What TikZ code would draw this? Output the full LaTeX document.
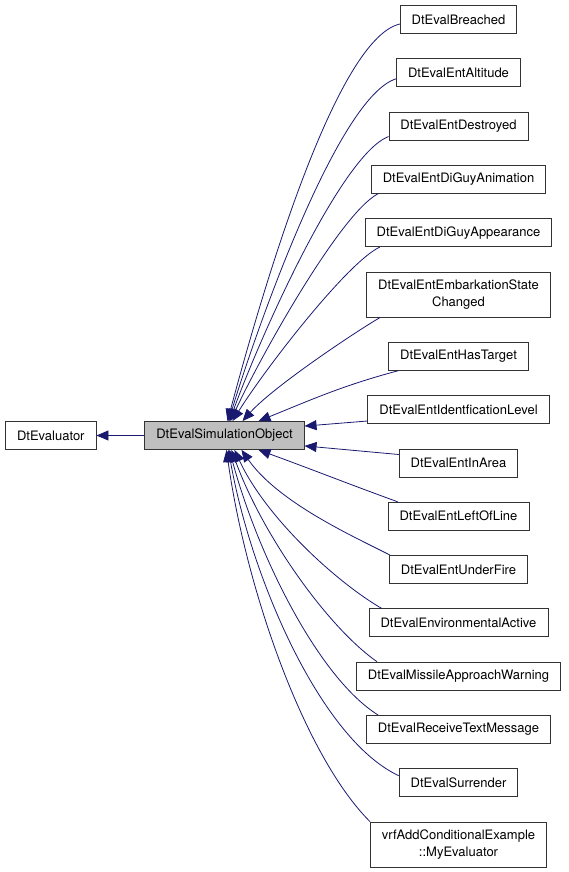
\documentclass[tikz,border=0pt]{standalone}
\usepackage{fontspec}
\setmainfont{TeX Gyre Heros}
\usetikzlibrary{arrows.meta,topaths,calc,positioning}

\definecolor{edgeblue}{HTML}{191970}
\definecolor{boxgray}{HTML}{BFBFBF}

\begin{document}
\begin{tikzpicture}[x=1pt, y=1pt, node distance=24.5pt,
    cls/.style={draw=black!80, line width=0.8pt, fill=white, minimum height=28pt,
                inner xsep=11.5pt, inner ysep=3pt, align=center,
                font=\fontsize{13}{17}\selectfont},
    twoline/.style={minimum height=45pt},
    inherit/.style={color=edgeblue, line width=0.8pt, -{Triangle[length=12pt,width=10pt]}},
    upper/.style={out looseness=0.4, in looseness=0.7},
    lower/.style={out looseness=0.6, in looseness=0.9}]
    \useasboundingbox (0,0) rectangle (568,-872);

    \node[cls, fill=boxgray]  (simobj)     at (224.5,-435.5)            {DtEvalSimulationObject};
    \node[cls]                (evaluator)  [left=48pt of simobj]        {DtEvaluator};

    \node[cls]                (breached)   at (458.5,-19.5)             {DtEvalBreached};
    \node[cls]                (altitude)   [below=of breached]          {DtEvalEntAltitude};
    \node[cls]                (destroyed)  [below=of altitude]          {DtEvalEntDestroyed};
    \node[cls]                (animation)  [below=of destroyed]         {DtEvalEntDiGuyAnimation};
    \node[cls]                (appearance) [below=of animation]         {DtEvalEntDiGuyAppearance};
    \node[cls, twoline]       (embark)     [below=of appearance]        {DtEvalEntEmbarkationState\\Changed};
    \node[cls]                (hastarget)  [below=of embark]            {DtEvalEntHasTarget};
    \node[cls]                (identlevel) [below=of hastarget]         {DtEvalEntIdentficationLevel};
    \node[cls]                (inarea)     [below=of identlevel]        {DtEvalEntInArea};
    \node[cls]                (leftofline) [below=of inarea]            {DtEvalEntLeftOfLine};
    \node[cls]                (underfire)  [below=of leftofline]        {DtEvalEntUnderFire};
    \node[cls]                (envactive)  [below=of underfire]         {DtEvalEnvironmentalActive};
    \node[cls]                (missile)    [below=of envactive]         {DtEvalMissileApproachWarning};
    \node[cls]                (textmsg)    [below=of missile]           {DtEvalReceiveTextMessage};
    \node[cls]                (surrender)  [below=of textmsg]           {DtEvalSurrender};
    \node[cls, twoline]       (myeval)     [below=of surrender]         {vrfAddConditionalExample\\::MyEvaluator};

    \draw[inherit] (simobj) -- (evaluator);

    % derived classes above the parent
    \path[inherit]
        ([yshift=-4.5pt]breached.west)      edge [upper, out=193, in=75]  ([xshift=83pt]simobj.north west)
        ([yshift=-6pt]altitude.west)        edge [upper, out=197, in=73]  ([xshift=84pt]simobj.north west)
        ([yshift=4pt]destroyed.south west)  edge [upper, out=201, in=70]  ([xshift=85pt]simobj.north west)
        ([xshift=7pt]animation.south west)  edge [upper, out=208, in=65]  ([xshift=86pt]simobj.north west)
        ([xshift=15pt]appearance.south west) edge [upper, out=205, in=58] ([xshift=88pt]simobj.north west)
        ([xshift=14pt]embark.south west)    edge [upper, out=210, in=48]  ([xshift=98pt]simobj.north west)
        ([xshift=10pt]hastarget.south west) edge [out=195, in=22]         ([xshift=114pt]simobj.north west)
        ([yshift=3pt]identlevel.south west) edge                          ([yshift=-5pt]simobj.north east);

    % derived classes below the parent
    \path[inherit]
        ([yshift=-6pt]inarea.north west)     edge                         ([yshift=4pt]simobj.south east)
        ([xshift=10pt]leftofline.north west) edge [out=160, in=-20]       ([xshift=114pt]simobj.south west)
        ([xshift=1pt]underfire.north west)   edge [lower, out=153, in=-55] ([xshift=97pt]simobj.south west)
        ([xshift=13pt]envactive.north west)  edge [lower, out=150, in=-65] ([xshift=90pt]simobj.south west)
        ([xshift=21pt]missile.north west)    edge [lower, out=145, in=-70] ([xshift=87pt]simobj.south west)
        ([xshift=12pt]textmsg.north west)    edge [lower, out=148, in=-75] ([xshift=85pt]simobj.south west)
        ([yshift=7pt]surrender.west)         edge [lower, out=155, in=-80] ([xshift=84pt]simobj.south west)
        (myeval.north west)                  edge [lower, out=135, in=-82] ([xshift=82pt]simobj.south west);
\end{tikzpicture}
\end{document}
